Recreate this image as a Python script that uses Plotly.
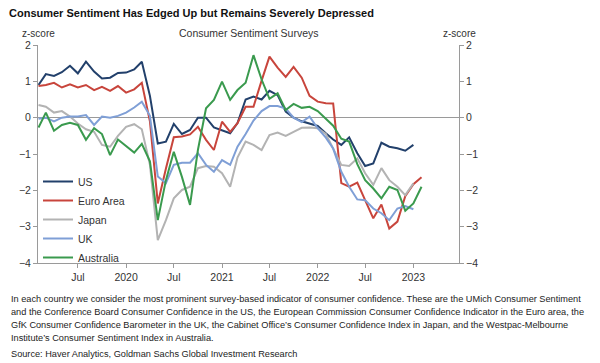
import plotly.graph_objects as go
import pandas as pd

# ---- data (monthly z-scores) ----
months = pd.date_range("2019-02-01", "2023-02-01", freq="MS")

us = [0.9, 1.2, 1.15, 1.25, 1.43, 1.22, 1.54, 1.27, 1.08, 1.1, 1.23, 1.24, 1.33, 1.54,
      0.6, -0.71, -0.66, -0.17, -0.45, -0.34, 0.0, 0.0, -0.27, -0.34, -0.43, -0.15,
      0.5, 0.58, 0.5, 0.74, 0.62, 0.17, 0.0, -0.1, -0.16, -0.23, -0.43, -0.6,
      -0.75, -0.54, -0.98, -1.33, -1.26, -0.69, -0.8, -0.84, -0.91, -0.75]
euro_area = [0.87, 0.9, 0.96, 0.83, 0.92, 0.83, 0.9, 0.76, 0.85, 0.74, 0.87, 0.69, 0.78, 0.96,
             -0.1, -2.36, -1.4, -0.54, -0.52, -0.46, -0.25, -0.61, -0.89, -0.11, -0.39, -0.15,
             0.3, 0.3, 1.02, 1.68, 1.38, 1.12, 1.4, 1.1, 0.6, 0.44, 0.4, 0.39,
             -1.8, -1.9, -1.79, -2.27, -2.77, -2.39, -3.05, -2.86, -2.16, -1.83, -1.64]
japan = [0.35, 0.3, 0.14, 0.18, 0.03, -0.16, -0.32, -0.39, -0.75, -0.8, -0.5, -0.25, -0.18, -0.32,
         -1.3, -3.37, -2.82, -2.22, -1.99, -1.9, -1.39, -1.33, -1.35, -1.53, -1.9, -1.1,
         -0.66, -0.75, -0.89, -0.48, -0.41, -0.5, -0.39, -0.28, -0.27, -0.29, -0.45, -0.84,
         -1.3, -1.33, -1.12, -1.53, -1.85, -1.39, -1.72, -1.9, -2.13, -1.81]
uk = [-0.03, 0.0, -0.1, 0.0, 0.03, 0.03, 0.07, -0.2, 0.03, 0.0, 0.05, 0.14, 0.28, 0.44,
      0.05, -1.62, -1.8, -1.3, -1.24, -1.24, -0.98, -1.3, -1.49, -1.17, -1.3, -0.8,
      -0.45, -0.08, 0.18, 0.32, 0.32, 0.25, 0.0, -0.12, 0.03, -0.29, -0.55, -0.85,
      -1.49, -1.9, -2.25, -2.27, -2.5, -2.63, -2.82, -2.5, -2.43, -2.52]
australia = [-0.27, 0.14, -0.36, -0.2, -0.14, -0.2, -0.61, -0.29, -0.45, -1.03, -0.6, -0.78, -0.96, -0.72,
             -1.2, -2.82, -1.72, -0.94, -1.63, -2.4, -0.89, 0.26, 0.49, 0.99, 0.49, 0.76,
             0.96, 1.72, 1.05, 0.52, 0.67, 0.21, 0.38, 0.27, 0.3, 0.18, -0.03, -0.22,
             -0.58, -0.66, -1.28, -1.72, -1.95, -2.22, -1.9, -1.99, -2.56, -2.36, -1.9]

series_names = ["US", "Euro Area", "Japan", "UK", "Australia"]
series_values = [us, euro_area, japan, uk, australia]
series_colors = ["#22406b", "#c8453c", "#b3b3b3", "#7f9fd6", "#3a9a4e"]

tick_dates = ["2019-07-01", "2020-01-01", "2020-07-01", "2021-01-01",
              "2021-07-01", "2022-01-01", "2022-07-01", "2023-01-01"]
tick_labels = ["Jul", "2020", "Jul", "2021", "Jul", "2022", "Jul", "2023"]
y_ticks = [-4, -3, -2, -1, 0, 1, 2]

footnote_lines = [
    "In each country we consider the most prominent survey-based indicator of consumer confidence. These are the UMich Consumer Sentiment",
    "and the Conference Board Consumer Confidence in the US, the European Commission Consumer Confidence Indicator in the Euro area, the",
    "GfK Consumer Confidence Barometer in the UK, the Cabinet Office\u2019s Consumer Confidence Index in Japan, and the Westpac-Melbourne",
    "Institute\u2019s Consumer Sentiment Index in Australia.",
]
source_text = "Source: Haver Analytics, Goldman Sachs Global Investment Research"

FONT = "Liberation Sans, Arial, Helvetica, sans-serif"
AXIS_GREY = "#9a9a9a"
TEXT = "#333333"

fig = go.Figure()
for name, vals, col in zip(series_names, series_values, series_colors):
    fig.add_trace(go.Scatter(x=months[:len(vals)], y=vals, name=name, mode="lines",
                             line=dict(color=col, width=2)))
# invisible trace to activate the right-hand axis
fig.add_trace(go.Scatter(x=months[:1], y=[0], yaxis="y2", mode="lines",
                         line=dict(width=0), showlegend=False, hoverinfo="skip"))

L, R, T, B = 38, 141, 45, 100
W, H = 600, 363
ph = H - T - B

def py(ypx):
    return (H - B - ypx) / ph

axis_common = dict(range=[-4, 2], tickvals=y_ticks, ticks="outside", ticklen=4,
                   tickcolor=AXIS_GREY, showline=True, linecolor=AXIS_GREY, linewidth=1,
                   showgrid=False, tickfont=dict(size=10.5, color=TEXT, family=FONT))

fig.update_layout(
    width=W, height=H,
    margin=dict(l=L, r=R, t=T, b=B),
    paper_bgcolor="white", plot_bgcolor="white",
    font=dict(family=FONT, color=TEXT),
    title=dict(text="<b>Consumer Sentiment Has Edged Up but Remains Severely Depressed</b>",
               x=9 / W, xanchor="left", xref="container",
               y=1 - 13 / H, yanchor="middle", yref="container",
               font=dict(size=11, color="#111111", family=FONT)),
    xaxis=dict(type="date", range=["2019-01-30", "2023-06-24"], tickvals=tick_dates,
               ticktext=tick_labels, ticks="outside", ticklen=4, tickcolor=AXIS_GREY,
               showline=True, linecolor=AXIS_GREY, linewidth=1, showgrid=False,
               zeroline=False, tickfont=dict(size=10.5, color=TEXT, family=FONT)),
    yaxis=dict(**axis_common, zeroline=True, zerolinecolor=AXIS_GREY, zerolinewidth=1),
    yaxis2=dict(**axis_common, overlaying="y", side="right", zeroline=False),
    legend=dict(x=0.0, y=py(167), xanchor="left", yanchor="top", bgcolor="rgba(0,0,0,0)",
                font=dict(size=10.5, color=TEXT, family=FONT), itemwidth=30),
    showlegend=True,
)

ann_font = dict(size=10, color=TEXT, family=FONT)
fig.add_annotation(text="z-score", x=0, y=py(33), xref="paper", yref="paper",
                   showarrow=False, xanchor="center", yanchor="middle", font=ann_font)
fig.add_annotation(text="z-score", x=1, y=py(33), xref="paper", yref="paper",
                   showarrow=False, xanchor="center", yanchor="middle", font=ann_font)
fig.add_annotation(text="Consumer Sentiment Surveys", x=0.5, y=py(33), xref="paper", yref="paper",
                   showarrow=False, xanchor="center", yanchor="middle",
                   font=dict(size=10.5, color=TEXT, family=FONT))

foot_x = (9 - L) / (W - L - R)
for i, line in enumerate(footnote_lines):
    fig.add_annotation(text=line, x=foot_x, y=py(299 + 13 * i), xref="paper", yref="paper",
                       showarrow=False, xanchor="left", yanchor="middle",
                       font=dict(size=9.2, color="#222222", family=FONT))
fig.add_annotation(text=source_text, x=foot_x, y=py(354), xref="paper", yref="paper",
                   showarrow=False, xanchor="left", yanchor="middle",
                   font=dict(size=9.2, color="#222222", family=FONT))

fig.write_html("out.html", config={"displayModeBar": False},
               post_script="document.body.style.margin='0';document.body.style.overflow='hidden';")
